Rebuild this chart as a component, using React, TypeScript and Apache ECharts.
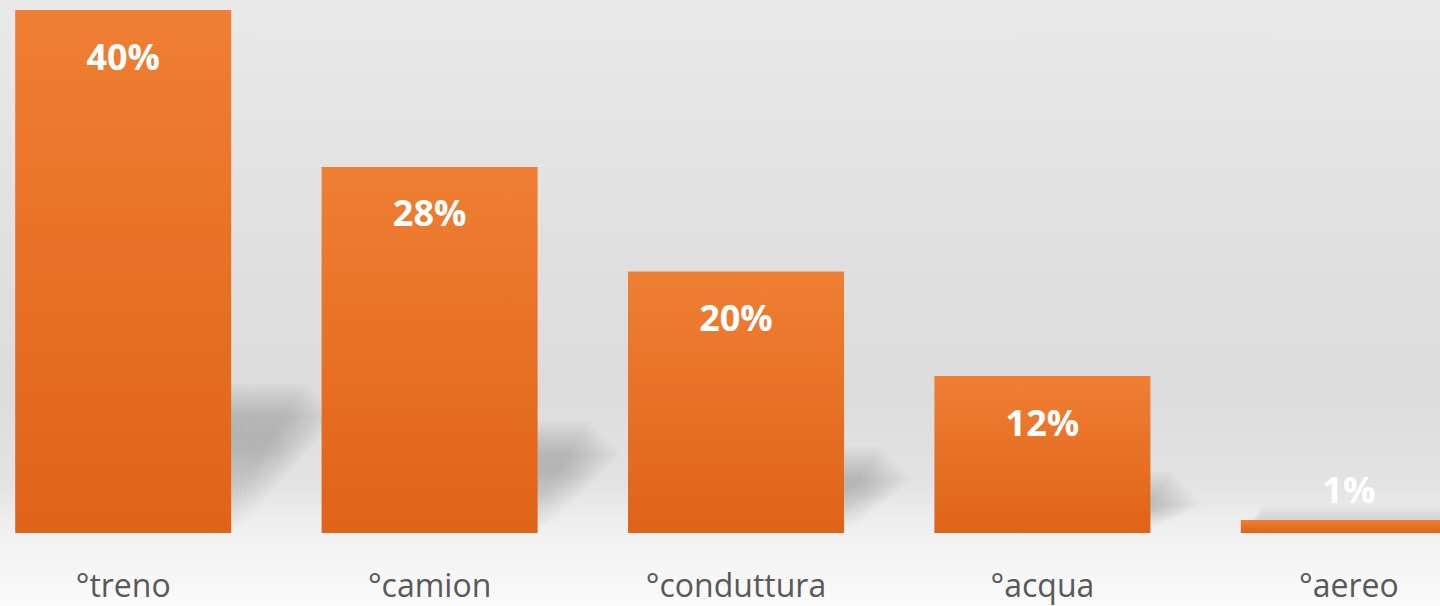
import React, { useEffect, useRef } from "react";
import * as echarts from "echarts";

const categories = ["°treno", "°camion", "°conduttura", "°acqua", "°aereo"];
const shares = [40, 28, 20, 12, 1];

export default function App() {
  const ref = useRef<HTMLDivElement>(null);
  useEffect(() => {
    if (!ref.current) return;
    const chart = echarts.init(ref.current, null, { renderer: "svg" });
    const barData = shares.map((v) => {
      if (v < 5) {
        return { value: v, label: { position: "top", distance: 12 } };
      }
      return { value: v };
    });
    const layers: number[] = [];
    for (let o = -20; o <= 12; o += 2) layers.push(o);
    chart.setOption({
      animation: false,
      backgroundColor: {
        type: "linear",
        x: 0,
        y: 0,
        x2: 0,
        y2: 1,
        colorStops: [
          { offset: 0, color: "#e9e9e9" },
          { offset: 0.35, color: "#e1e1e1" },
          { offset: 0.65, color: "#dcdcdc" },
          { offset: 0.8, color: "#e3e3e3" },
          { offset: 0.88, color: "#f1f1f1" },
          { offset: 1, color: "#fafafa" },
        ],
      },
      grid: { left: 0, right: 0, top: 10, bottom: 73 },
      xAxis: {
        type: "category",
        data: categories,
        axisLine: { show: false },
        axisTick: { show: false },
        axisLabel: {
          color: "#595959",
          fontFamily: "Open Sans",
          fontSize: 32,
          margin: 35,
        },
      },
      yAxis: {
        type: "value",
        min: 0,
        max: 40,
        show: false,
        splitLine: { show: false },
      },
      series: [
        {
          type: "custom",
          z: 1,
          silent: true,
          data: shares.map((v, i) => [i, v]),
          encode: { x: 0, y: 1 },
          renderItem: (params: any, api: any) => {
            const idx = api.value(0);
            const v = api.value(1);
            const top = api.coord([idx, v]);
            const base = api.coord([idx, 0]);
            const band = api.size([1, 0])[0];
            const bw = band * 0.705;
            const h = base[1] - top[1];
            const dy = h * 0.24;
            const dx = dy * 0.6 + 20;
            const l = base[0] - bw / 2;
            const r = base[0] + bw / 2;
            const y0 = base[1] - 4;
            const children = layers.map((o) => ({
              type: "polygon",
              shape: {
                points: [
                  [l, y0 - o * 0.3],
                  [r + o, y0 - o * 0.3],
                  [r + dx + o, y0 - dy + o],
                  [l + dx, y0 - dy + o],
                ],
              },
              style: {
                fill: new echarts.graphic.LinearGradient(0, 0, 0, 1, [
                  { offset: 0, color: "rgba(140,140,140,0.035)" },
                  { offset: 0.35, color: "rgba(140,140,140,0.045)" },
                  { offset: 1, color: "rgba(170,170,170,0.01)" },
                ]),
              },
            }));
            return { type: "group", children };
          },
        },
        {
          type: "bar",
          z: 2,
          data: barData,
          barWidth: "70.5%",
          itemStyle: {
            color: new echarts.graphic.LinearGradient(0, 0, 0, 1, [
              { offset: 0, color: "#ef7f33" },
              { offset: 1, color: "#df6318" },
            ]),
          },
          label: {
            show: true,
            position: "insideTop",
            distance: 28,
            color: "#ffffff",
            fontFamily: "Open Sans",
            fontWeight: "bold",
            fontSize: 36,
            formatter: "{c}%",
          },
        },
      ],
    });
    return () => chart.dispose();
  }, []);
  return (
    <div
      style={{
        position: "fixed",
        left: 0,
        top: 0,
        width: 1440,
        height: 606,
        overflow: "hidden",
      }}
    >
      <div
        ref={ref}
        style={{ position: "absolute", left: -30, top: 0, width: 1532, height: 606 }}
      />
    </div>
  );
}
